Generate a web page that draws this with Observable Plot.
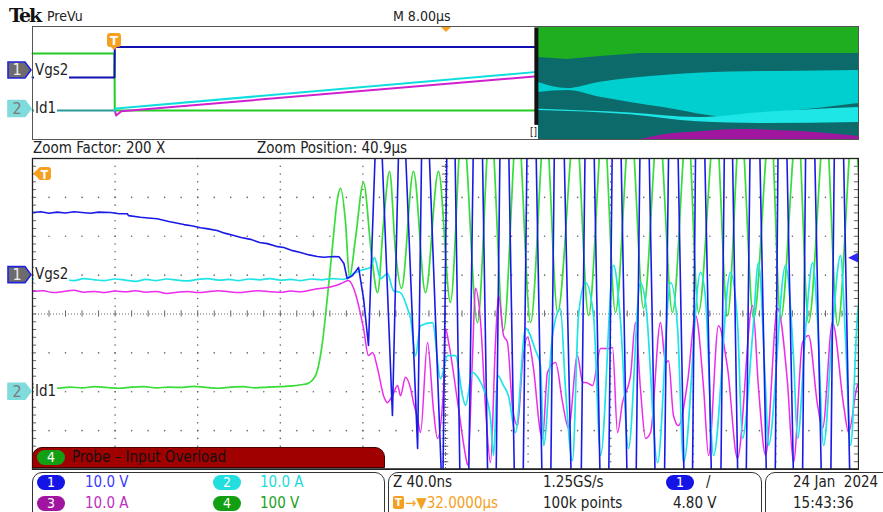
<!DOCTYPE html>
<html><head><meta charset="utf-8">
<script src="https://cdn.jsdelivr.net/npm/d3@7"></script>
<script src="https://cdn.jsdelivr.net/npm/@observablehq/plot@0.6"></script>
<style>
body{margin:0;background:#fff;}
#root{position:relative;width:883px;height:512px;overflow:hidden;background:#fff;
 font-family:"DejaVu Sans Condensed","Liberation Sans Narrow","DejaVu Sans",sans-serif;font-stretch:condensed;}
.abs{position:absolute;white-space:nowrap;}
.pill{position:absolute;width:28px;height:15px;border-radius:8px;color:#fff;font-size:14px;line-height:15px;text-align:center;}
.box{position:absolute;border:1.5px solid #333;border-radius:10px;box-sizing:border-box;}
</style></head><body><div id="root"></div>
<script>
// ---------- Zoom window (40 ns/div, 10 div): time in ns from window left edge, value in screen divisions ----------
const ch1Vgs2 = [[0,2.61],[4,2.63],[8,2.59],[12,2.62],[16,2.60],[20,2.63],[24,2.61],[28,2.59],[32,2.62],[37.8,2.61],[42,2.58],[45.9,2.58],[46.5,2.53],[52.3,2.49],[56,2.47],[60.4,2.45],[66,2.38],[73.3,2.30],[77,2.27],[81.4,2.22],[85,2.19],[89.4,2.15],[93,2.08],[97.5,2.02],[101,1.97],[105.6,1.92],[110,1.84],[113.7,1.81],[118,1.74],[121.7,1.71],[126,1.63],[129.8,1.58],[134,1.52],[137.9,1.48],[141,1.46],[145.9,1.48],[148.5,1.47],[150.8,1.30],[152.4,0.91],[155,0.99],[157.9,1.20],[160.3,0.40],[162.7,-0.81],[167.5,6.5],[174.3,-2.61],[178.5,7],[186.5,-3.46],[189.4,8],[198.6,-5],[202.4,12],[209.2,-12],[215.5,12],[222.8,-12],[228.1,12],[235.9,-12],[241.2,12],[249.4,-12],[254.3,12],[264,-12],[269.3,12],[277.5,-12],[282.3,12],[290.6,-12],[295.9,12],[304.2,-12],[309.9,12],[318.2,-12],[322.5,12],[331.8,-12],[336.6,12],[343.9,-12],[349.2,12],[358.4,-12],[362.3,12],[371.5,-12],[375.8,12],[385,-12],[389.9,12],[398.6,-12],[400,-6]];
const ch2Id1 = [[0,0.89],[5,0.91],[10,0.86],[15,0.89],[20,0.86],[25,0.91],[30,0.88],[35,0.86],[40,0.90],[45,0.87],[50,0.84],[55,0.89],[60,0.86],[65,0.90],[70,0.87],[75,0.85],[80,0.89],[85,0.91],[90,0.87],[95,0.89],[100,0.86],[105,0.90],[110,0.88],[115,0.91],[120,0.87],[125,0.89],[130,0.86],[135,0.90],[140,0.88],[145,0.91],[150.6,0.89],[155.5,1.04],[158.9,1.12],[163.7,1.20],[165.6,1.45],[168.5,0.91],[171.9,1.04],[174.8,0.60],[178.2,0.55],[181.6,0.14],[183.1,-0.12],[185.5,-1.07],[187.9,-0.30],[193.7,-0.22],[197.6,-1.66],[201,-1.07],[204.9,-1.07],[208.2,-2.10],[209.7,-2.35],[213.1,-1.50],[216,-1.66],[218.4,-1.92],[221.8,-2.69],[223.3,-3.64],[225.2,-1.58],[228.1,-1.84],[230.5,-2.10],[233.9,-3.05],[238.8,-0.37],[243.6,-0.94],[246,-1.32],[247.5,-3.38],[251.8,-0.55],[255.7,0.14],[258.1,-1.92],[261.5,-3.77],[264.4,-0.04],[267.8,0.81],[271.7,-0.04],[275.1,-3.64],[281.4,1.25],[284.8,-0.22],[288.6,-3.46],[294.4,0.81],[296.9,0.30],[302.7,-3.82],[309,0.81],[312.4,-0.37],[315.3,-3.82],[323.5,1.07],[325.9,0.40],[329.8,-3.64],[338,1.07],[341.4,-0.22],[343.8,-3.20],[348.7,-0.55],[351.6,1.32],[355,-1.92],[356.4,-3.38],[364.7,1.25],[368.5,-1.07],[370.5,-3.20],[374.4,-0.37],[377.8,1.32],[380.2,-0.22],[383.1,-3.38],[387.4,-0.37],[391.3,1.50],[393.7,-0.63],[396.2,-3.38],[399.5,-0.04],[400,0.2]];
const ch3 = [[0,0.58],[5,0.60],[10,0.55],[15,0.58],[20,0.61],[25,0.56],[30,0.58],[35,0.55],[40,0.59],[45,0.57],[50,0.60],[55,0.56],[60,0.58],[65,0.53],[70,0.56],[75,0.58],[80,0.55],[85,0.57],[90,0.60],[95,0.57],[100,0.55],[105,0.58],[110,0.60],[115,0.57],[120,0.56],[125,0.59],[130,0.57],[135,0.62],[140,0.66],[142.9,0.68],[149.2,0.78],[153,0.86],[155.5,0.66],[157.9,0.22],[160.3,-0.37],[162.7,-1.07],[164.7,-0.99],[167.1,-1.40],[170,-2.10],[171.9,-2.28],[174.3,-2.10],[176.8,-1.84],[178.2,-2.10],[180.6,-1.63],[183.1,-1.92],[184.5,-2.28],[186.5,-2.69],[187.9,-3.05],[191.3,-0.73],[194.2,-2.48],[196.1,-3.20],[199,-1.97],[200,-0.37],[201.5,-0.73],[206.3,-2.43],[209.7,-3.64],[210.7,-3.89],[213.1,-1.07],[214.5,0.66],[217,-0.22],[219.4,-2.43],[221.8,-3.82],[224.2,-0.73],[225.7,0.48],[228.1,-0.55],[230,-0.73],[232.5,-2.43],[234.9,-2.87],[237.3,-1.25],[239.7,-0.60],[242.6,-1.40],[246,-3.05],[247,-3.20],[249.4,-1.50],[253.3,-1.25],[256.7,-2.28],[259.6,-2.94],[263.9,-1.07],[266.4,-1.76],[267.8,-1.76],[271.2,-1.84],[275.1,-0.89],[278.9,-0.89],[280.9,-0.86],[283.3,-3.05],[285.7,-2.28],[289.6,-1.58],[292,-0.22],[294.4,-1.92],[296.9,-3.20],[299.3,-3.05],[304.1,-0.22],[306.6,-1.25],[308,-1.20],[310.4,-2.61],[312.8,-2.87],[317.2,-1.76],[321.1,-0.04],[325,-1.92],[327.4,-3.64],[332.2,-0.30],[336.6,-1.40],[341.4,-3.71],[348.7,0.22],[351.6,-1.92],[355,-3.64],[360.8,0.14],[365.6,-1.76],[368.5,-3.82],[372.9,-0.73],[375.8,-0.55],[380.2,-2.35],[382.6,-2.94],[387.4,-0.22],[392.8,-2.35],[395.2,-3.05],[399.5,-1.84],[400,-1.8]];
const ch4 = [[0,-1.89],[6,-1.87],[12,-1.91],[18,-1.88],[24,-1.90],[30,-1.87],[36,-1.89],[42,-1.91],[48,-1.88],[54,-1.87],[60,-1.90],[66,-1.88],[72,-1.89],[78,-1.86],[84,-1.89],[90,-1.91],[96,-1.88],[102,-1.87],[108,-1.90],[114,-1.88],[120,-1.87],[126,-1.85],[130,-1.82],[133.2,-1.79],[137.1,-1.58],[140.4,-0.73],[142.9,0.48],[145.3,1.76],[147.7,2.97],[149.2,3.23],[151.6,2.35],[153.5,0.94],[156.4,1.94],[160.3,3.38],[164.2,1.50],[167.1,0.55],[170,2.35],[172.9,3.67],[175.8,1.60],[178.7,0.66],[184.5,3.67],[190.3,0.55],[196.6,3.67],[202.4,0.30],[208.2,5],[215.5,-0.22],[221.8,5],[228.1,-0.42],[234.9,5],[241.2,-0.22],[248.4,5],[254.3,0.04],[263,5],[269.3,-0.04],[276.5,5],[282.3,0.04],[289.6,5],[295.9,0.14],[303.2,5],[309.9,0.04],[317.2,5],[322.5,0.04],[330.8,5],[336.6,-0.04],[342.9,5],[349.2,-0.12],[357.4,5],[362.3,-0.12],[370.5,5],[375.8,-0.22],[384,5],[389.9,-0.30],[397.6,5],[400,3.67]];

// channel settings
const ch1Pos = 1, ch2Pos = -2;           // divisions
const ch1VoltsPerDiv = 10, trigLevel = 4.80; // V

// ---------- PreVu overview (8 µs/div): time in µs, value in divisions ----------
const ovCh4 = [[0,2.09],[7.94,2.09],[7.97,-1.95],[48.6,-1.95]];
const ovCh1 = [[0,0.39],[7.94,0.39],[7.97,2.54],[48.6,2.54]];
const ovCh2Pre = [[0,-1.95],[7.94,-1.95]];
const ovCh2 = [[7.97,-1.95],[8.1,-1.81],[48.6,0.77]];
const ovCh3 = [[7.97,-1.95],[8.1,-2.30],[8.6,-2.0],[48.6,0.46]];
const ovTeal = [{t:49.0,lo:-4,hi:4},{t:80,lo:-4,hi:4}];
const ovGreenBand = [{t:49.0,lo:1.81,hi:4},{t:51.8,lo:1.67,hi:4},{t:55.0,lo:1.88,hi:4},{t:58.9,lo:2.09,hi:4},{t:80,lo:2.09,hi:4}];
const ovCyanWedge = [{t:49.0,lo:-0.67,hi:0.04},{t:51.8,lo:-0.53,hi:-0.39},{t:55.0,lo:-1.01,hi:0.06},{t:61.1,lo:-1.74,hi:0.53},{t:67.6,lo:-2.43,hi:0.77},{t:72.4,lo:-2.09,hi:0.82},{t:80,lo:-1.45,hi:0.89}];
const ovCyanBand = [{t:49.0,lo:-1.95,hi:-1.85},{t:57.9,lo:-2.25,hi:-2.12},{t:64.4,lo:-2.75,hi:-2.45},{t:70.5,lo:-2.87,hi:-2.10},{t:80,lo:-2.80,hi:-1.74}];
const ovMagBand = [{t:58.9,lo:-4,hi:-4},{t:61.5,lo:-4,hi:-3.62},{t:64.7,lo:-4,hi:-3.45},{t:68.3,lo:-4,hi:-3.30},{t:74.4,lo:-4,hi:-3.44},{t:80,lo:-4,hi:-3.79}];
const ovZoomBarT = 48.8, ovTrigT = 7.94;
const ovLabelPos = [0.89, -1.84];

// graticule ticks
const mainXDomain = [0, 400], mainYDomain = [-4, 4];
const majorX = d3.range(40, 400, 40);
const majorY = [-3, -2, -1, 1, 2, 3];
const minorX = d3.range(0, 400.01, 8);
const minorY = d3.range(-4, 4.01, 0.2);

const root = document.getElementById("root");
const P = d => d[0], V = d => d[1];

// ---------- overview plot ----------
const ov = Plot.plot({
  width: 828, height: 115, margin: 1,
  x: {domain: [0, 80], axis: null},
  y: {domain: [-4, 4], axis: null},
  marks: [
    Plot.areaY(ovTeal, {x: "t", y1: "lo", y2: "hi", fill: "#0d6a6a"}),
    Plot.areaY(ovGreenBand, {x: "t", y1: "lo", y2: "hi", fill: "#1fae1f"}),
    Plot.areaY(ovCyanWedge, {x: "t", y1: "lo", y2: "hi", fill: "#00cfcf", curve: "monotone-x"}),
    Plot.areaY(ovCyanBand, {x: "t", y1: "lo", y2: "hi", fill: "#1ee6e6", curve: "monotone-x"}),
    Plot.areaY(ovMagBand, {x: "t", y1: "lo", y2: "hi", fill: "#a0169f", curve: "monotone-x"}),
    Plot.line(ovCh4, {x: P, y: V, stroke: "#22cc22", strokeWidth: 2}),
    Plot.line(ovCh2Pre, {x: P, y: V, stroke: "#2a9a9a", strokeWidth: 2}),
    Plot.line(ovCh3, {x: P, y: V, stroke: "#d020d0", strokeWidth: 2}),
    Plot.line(ovCh2, {x: P, y: V, stroke: "#10dede", strokeWidth: 2}),
    Plot.line(ovCh1, {x: P, y: V, stroke: "#1010b0", strokeWidth: 2}),
    Plot.ruleX([ovZoomBarT], {y1: -3.0, y2: 3.9, stroke: "#111", strokeWidth: 4}),
    Plot.frame({stroke: "#555"})
  ]
});
ov.style.position = "absolute"; ov.style.left = "31px"; ov.style.top = "25px";
root.appendChild(ov);

// ---------- main zoom plot ----------
const gridDots = d3.cross(majorX, minorY).concat(d3.cross(minorX, majorY));
const lineOpts = {x: P, y: V, clip: true, curve: "monotone-x", strokeWidth: 1.5};
const main = Plot.plot({
  width: 828, height: 313, margin: 1,
  x: {domain: mainXDomain, axis: null},
  y: {domain: mainYDomain, axis: null},
  marks: [
    Plot.dot(gridDots, {x: P, y: V, r: 0.8, fill: "#666", stroke: null}),
    Plot.ruleX([200], {stroke: "#666", strokeDasharray: "1,2"}),
    Plot.ruleY([0], {stroke: "#666", strokeDasharray: "1,2"}),
    Plot.ruleY(minorY, {x1: 198.4, x2: 201.6, stroke: "#666"}),
    Plot.ruleX(minorX, {y1: -0.08, y2: 0.08, stroke: "#666"}),
    Plot.ruleY(minorY, {x1: mainXDomain[0], x2: 2, stroke: "#666"}),
    Plot.ruleY(minorY, {x1: 398, x2: mainXDomain[1], stroke: "#666"}),
    Plot.line(ch4, {...lineOpts, stroke: "#38dd38", strokeWidth: 1.7}),
    Plot.line(ch3, {...lineOpts, stroke: "#ec2cec"}),
    Plot.line(ch2Id1, {...lineOpts, stroke: "#1ee4e8", strokeWidth: 1.7}),
    Plot.line(ch1Vgs2, {...lineOpts, curve: "linear", stroke: "#1a1ae6", strokeWidth: 1.6}),
    Plot.text([ch1Pos + trigLevel / ch1VoltsPerDiv], {y: d => d, frameAnchor: "right", textAnchor: "end", text: () => "◀", fill: "#2a2aff", fontSize: 13, dx: -1}),
    Plot.frame({stroke: "#222", strokeWidth: 1.3}),
    Plot.ruleY([mainYDomain[0]], {stroke: "#222", strokeWidth: 2.5})
  ]
});
main.style.position = "absolute"; main.style.left = "31px"; main.style.top = "157px";
root.appendChild(main);

// ---------- overlay shapes ----------
const ol = d3.select(root).append("svg").attr("width", 883).attr("height", 512)
  .style("position", "absolute").style("left", 0).style("top", 0).style("pointer-events", "none");
const yMain = v => 157 + main.scale("y").apply(v);
const yOv = v => 25 + ov.scale("y").apply(v);
const xOv = v => 31 + ov.scale("x").apply(v);
function chMarker(cy, fill, stroke, tcol, label) {
  ol.append("polygon").attr("points", `8,${cy-8} 25,${cy-8} 31,${cy} 25,${cy+8} 8,${cy+8}`)
    .attr("fill", fill).attr("stroke", stroke).attr("stroke-width", 1.6);
  ol.append("text").attr("x", 17).attr("y", cy + 5.5).attr("text-anchor", "middle").attr("fill", tcol)
    .attr("font-size", 16).attr("font-family", "DejaVu Sans").text(label);
}
const ovY1 = yOv(ovLabelPos[0]), ovY2 = yOv(ovLabelPos[1]);
const mY1 = yMain(ch1Pos), mY2 = yMain(ch2Pos);
chMarker(ovY1, "#6c6c6c", "#2222dd", "#eee", "1");
chMarker(ovY2, "#80dcdc", "#80dcdc", "#7a7a7a", "2");
chMarker(mY1, "#6c6c6c", "#2222dd", "#eee", "1");
chMarker(mY2, "#80dcdc", "#80dcdc", "#7a7a7a", "2");
const orange = "#f5a021";
// overview trigger T
const tx = xOv(ovTrigT);
ol.append("rect").attr("x", tx - 7).attr("y", 33).attr("width", 14).attr("height", 14).attr("rx", 3).attr("fill", orange);
ol.append("polygon").attr("points", `${tx-4},46 ${tx+4},46 ${tx},50`).attr("fill", orange);
ol.append("text").attr("x", tx).attr("y", 45).attr("text-anchor", "middle").attr("fill", "#fff").attr("font-size", 13).attr("font-weight", "bold").attr("font-family", "DejaVu Sans").text("T");
// main trigger T (off-screen left)
ol.append("rect").attr("x", 38).attr("y", 167).attr("width", 13).attr("height", 13).attr("rx", 3).attr("fill", orange);
ol.append("polygon").attr("points", `33,173.5 39,168 39,179`).attr("fill", orange);
ol.append("text").attr("x", 44.5).attr("y", 178.5).attr("text-anchor", "middle").attr("fill", "#fff").attr("font-size", 12).attr("font-weight", "bold").attr("font-family", "DejaVu Sans").text("T");
// zoom position marker
ol.append("polygon").attr("points", `441,27 451,27 446,32`).attr("fill", orange);

// ---------- text ----------
function txt(s, x, cy, size, color, extra = {}) {
  const d = document.createElement("div");
  d.className = "abs"; d.textContent = s;
  d.style.left = x + "px"; d.style.top = (cy - size * 0.62) + "px";
  d.style.fontSize = size + "px"; d.style.lineHeight = (size * 1.2) + "px"; d.style.color = color;
  Object.assign(d.style, extra);
  root.appendChild(d); return d;
}
function pill(label, x, cy, bg, fg = "#fff") {
  const d = document.createElement("div");
  d.className = "pill"; d.textContent = label; d.style.left = x + "px"; d.style.top = (cy - 7.5) + "px";
  d.style.background = bg; d.style.color = fg; root.appendChild(d);
}
txt("Tek", 9, 16, 19, "#111", {fontFamily: "DejaVu Serif", fontWeight: "bold", letterSpacing: "-2px", fontStretch: "normal"});
txt("PreVu", 47, 17, 14, "#222");
txt("M 8.00µs", 393, 17, 14, "#222");
txt("Zoom Factor: 200 X", 33, 148, 15, "#222");
txt("Zoom Position: 40.9µs", 257, 148, 15, "#222");
txt("Vgs2", 34, ovY1, 15, "#222", {background: "#fff", padding: "0 1px"});
txt("Id1", 34, ovY2, 15, "#222", {background: "#fff", padding: "0 1px"});
txt("Vgs2", 34, mY1, 15, "#222", {background: "#fff", padding: "0 1px"});
txt("Id1", 34, mY2, 15, "#222", {background: "#fff", padding: "0 1px"});
txt("[]", 530, 132, 10, "#111", {background: "#fff"});

// overload banner
const ban = document.createElement("div");
Object.assign(ban.style, {position: "absolute", left: "32px", top: "447px", width: "353px", height: "21px", background: "#a00000", borderRadius: "10px 10px 0 0", boxSizing: "border-box", border: "1px solid #400"});
root.appendChild(ban);
pill("4", 37, 457.5, "#12a012");
txt("Probe – Input Overload", 72, 457.5, 15, "#111");

// bottom readouts
[[32, 353], [388, 374], [765, 140]].forEach(([l, w]) => {
  const b = document.createElement("div"); b.className = "box";
  b.style.left = l + "px"; b.style.top = "472px"; b.style.width = w + "px"; b.style.height = "52px";
  root.appendChild(b);
});
pill("1", 37, 482, "#1414e6"); txt("10.0 V", 85, 482, 15, "#3b3bff");
pill("2", 213, 482, "#22dede"); txt("10.0 A", 260, 482, 15, "#22dada");
pill("3", 37, 503, "#a014a0"); txt("10.0 A", 85, 503, 15, "#c030c0");
pill("4", 213, 503, "#12a012"); txt("100 V", 260, 503, 15, "#22a022");
txt("Z 40.0ns", 393, 482, 15, "#222");
txt("1.25GS/s", 543, 482, 15, "#222");
pill("1", 666, 482, "#1414e6"); txt("/", 706, 482, 15, "#222");
const tb = document.createElement("div");
Object.assign(tb.style, {position: "absolute", left: "393px", top: "496px", width: "11px", height: "13px", background: orange, color: "#fff", fontSize: "11px", lineHeight: "13px", textAlign: "center", fontWeight: "bold", borderRadius: "2px"});
tb.textContent = "T"; root.appendChild(tb);
txt("→▼32.0000µs", 405, 503, 15, orange);
txt("100k points", 543, 503, 15, "#222");
txt("4.80 V", 673, 503, 15, "#222");
txt("24 Jan  2024", 793, 482, 15, "#222", {whiteSpace: "pre"});
txt("15:43:36", 793, 503, 15, "#222");
</script></body></html>
